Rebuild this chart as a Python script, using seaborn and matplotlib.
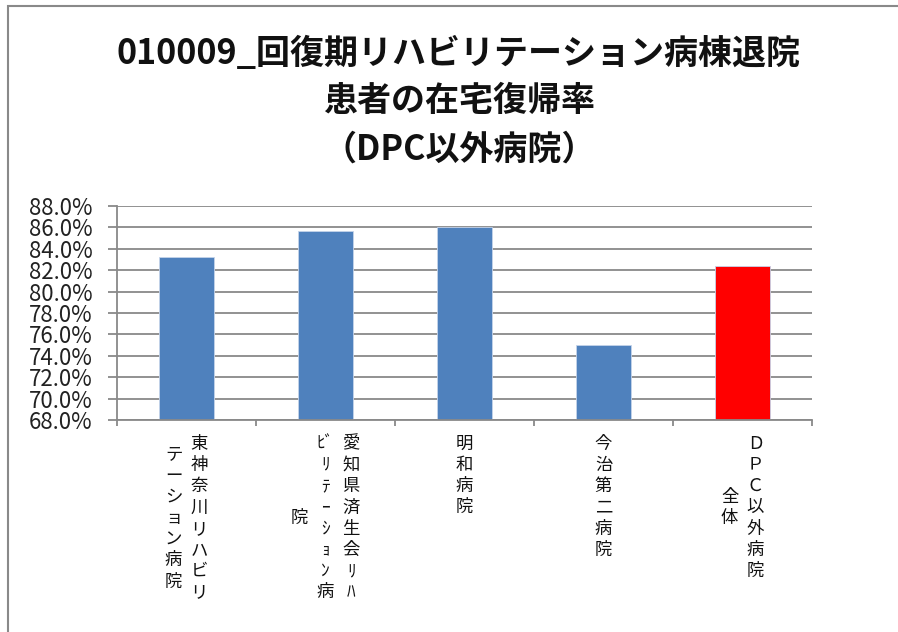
import matplotlib
matplotlib.use("Agg")
import matplotlib.pyplot as plt
import matplotlib.patches as mpatches
import matplotlib.transforms as mtransforms
from matplotlib.ticker import FuncFormatter
import seaborn as sns

# data
categories = [
    "東神奈川リハビリテーション病院",
    "愛知県済生会ﾘﾊﾋﾞﾘﾃｰｼｮﾝ病院",
    "明和病院",
    "今治第二病院",
    "ＤＰＣ以外病院\n全体",
]
values = [83.2, 85.7, 86.0, 75.0, 82.4]
bar_colors = ["#4F81BD", "#4F81BD", "#4F81BD", "#4F81BD", "#FF0000"]
y_ticks = [68, 70, 72, 74, 76, 78, 80, 82, 84, 86, 88]
title = "010009_回復期リハビリテーション病棟退院\n患者の在宅復帰率\n（DPC以外病院）"

sns.set_theme(style="white")
plt.rcParams["font.family"] = ["Noto Sans CJK JP", "DejaVu Sans"]

grey = "#898989"

fig = plt.figure(figsize=(8.98, 6.32), dpi=100)
ax = fig.add_axes([117 / 898, 1 - 420 / 632, 695 / 898, 214 / 632])

sns.barplot(x=list(range(len(categories))), y=values, hue=list(range(len(categories))),
            palette=bar_colors, legend=False, width=0.4, ax=ax,
            edgecolor="#c5d4ea", linewidth=0.6, saturation=1)

ax.set_ylim(y_ticks[0], y_ticks[-1])
ax.set_yticks(y_ticks)
ax.yaxis.set_major_formatter(FuncFormatter(lambda v, p: f"{v:.1f}%"))
ax.set_xlim(-0.5, len(categories) - 0.5)
ax.set_xticks([i - 0.5 for i in range(len(categories) + 1)])
ax.set_xticklabels([])
ax.grid(axis="y", color=grey, linewidth=1.3)
ax.set_axisbelow(True)
for s in ["top", "right"]:
    ax.spines[s].set_visible(False)
for s in ["left", "bottom"]:
    ax.spines[s].set_color(grey)
    ax.spines[s].set_linewidth(1.3)
ax.tick_params(axis="y", left=True, length=6.5, width=1.3, color=grey, pad=11,
               labelsize=16, labelcolor="#222222")
ax.tick_params(axis="x", bottom=True, length=4, width=1.3, color=grey)
ax.set_xlabel("")
ax.set_ylabel("")


# vertical, column-wrapped category labels (columns run right to left)
def split_units(text):
    units = []
    for ch in text:
        if ch in "ﾞﾟ" and units:
            units[-1] += ch
        else:
            units.append(ch)
    return units


def wrap_columns(label, n=8):
    cols = []
    for part in label.split("\n"):
        u = split_units(part)
        for k in range(0, len(u), n):
            cols.append(u[k:k + n])
    return cols


trans = mtransforms.blended_transform_factory(ax.transData, ax.transAxes)
pitch = 15.3   # points between characters
col_gap = 18.5  # points between columns
for i, lab in enumerate(categories):
    cols = wrap_columns(lab)
    longest = max(len(c) for c in cols)
    ncol = len(cols)
    for c, col in enumerate(cols):
        dx = ((ncol - 1) / 2 - c) * col_gap
        start = (longest - len(col)) / 2
        for j, ch in enumerate(col):
            dy = -17 - (start + j) * pitch
            ax.annotate(ch, xy=(i, 0), xycoords=trans, xytext=(dx, dy),
                        textcoords="offset points", ha="center", va="center",
                        fontsize=12.5, color="#111111")

fig.text(0.511, 1 - 101 / 632, title, ha="center", va="center", fontsize=24.5,
         fontweight="bold", linespacing=1.45, color="#111111")

# outer chart frame
fig.add_artist(mpatches.Rectangle((8 / 898, -0.1), 1.2, 1.1 - 6 / 632,
                                  transform=fig.transFigure, fill=False,
                                  edgecolor=grey, linewidth=1.5, clip_on=False))

fig.savefig("out.png", dpi=100)
